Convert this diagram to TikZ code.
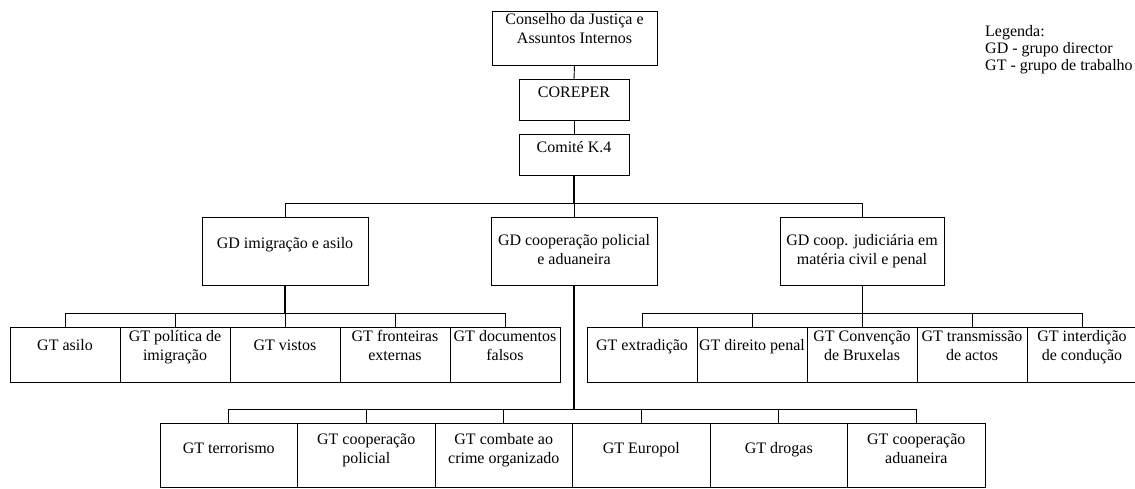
\documentclass[tikz,border=0pt]{standalone}
\usepackage{fontspec}
\setmainfont{Liberation Serif}
\begin{document}
\begin{tikzpicture}[x=1pt,y=-1pt,
  box/.style={draw=black,line width=0.9pt,rectangle,inner sep=0pt,outer sep=0pt},
  lbl/.style={anchor=base,inner sep=0pt,align=center,font=\fontsize{16}{18.4}\selectfont},
  leg/.style={anchor=base west,inner sep=0pt,font=\fontsize{16}{18.4}\selectfont},
  conn/.style={draw=black,line width=0.9pt},
  thickconn/.style={draw=black,line width=1.8pt}]
\useasboundingbox (0,0) rectangle (1135,488);
% top chain
\node[box,minimum width=165,minimum height=54] (conselho) at (574.5,38) {};
\node[lbl] (tconselho) at (574.5,43) {Conselho da Justiça e\\Assuntos Internos};
\node[box,minimum width=110,minimum height=41] (coreper) at (574,99.5) {};
\node[lbl] (tcoreper) at (574,97) {COREPER};
\node[box,minimum width=110,minimum height=41] (comite) at (574,154.5) {};
\node[lbl] (tcomite) at (574,152) {Comité K.4};
% GD row
\node[box,minimum width=166,minimum height=68] (gdimig) at (285,251) {};
\node[lbl] (tgdimig) at (285,248) {GD imigração e asilo};
\node[box,minimum width=166,minimum height=68] (gdcoop) at (574,251) {};
\node[lbl] (tgdcoop) at (574,264) {GD cooperação policial\\e aduaneira};
\node[box,minimum width=164,minimum height=68] (gdjud) at (862,251) {};
\node[lbl] (tgdjud) at (862,264) {GD coop. judiciária em\\matéria civil e penal};
% left GT row
\foreach \n/\cx in {a1/65,a2/175,a3/285,a4/395,a5/505}
  \node[box,minimum width=110,minimum height=55] (\n) at (\cx,354.5) {};
\node[lbl] (ta1) at (65,350) {GT asilo};
\node[lbl] (ta2) at (175,360) {GT política de\\imigração};
\node[lbl] (ta3) at (285,350) {GT vistos};
\node[lbl] (ta4) at (395,360) {GT fronteiras\\externas};
\node[lbl] (ta5) at (505,360) {GT documentos\\falsos};
% right GT row
\foreach \n/\cx in {b1/642,b2/752,b3/862,b4/972,b5/1082}
  \node[box,minimum width=110,minimum height=55] (\n) at (\cx,354.5) {};
\node[lbl] (tb1) at (642,350) {GT extradição};
\node[lbl] (tb2) at (752,350) {GT direito penal};
\node[lbl] (tb3) at (862,360) {GT Convenção\\de Bruxelas};
\node[lbl] (tb4) at (972,360) {GT transmissão\\de actos};
\node[lbl] (tb5) at (1082,360) {GT interdição\\de condução};
% bottom GT row
\foreach \n/\cx in {c1/228.75,c2/366.25,c3/503.75,c4/641.25,c5/778.75,c6/916.25}
  \node[box,minimum width=137.5,minimum height=64] (\n) at (\cx,455) {};
\node[lbl] (tc1) at (228.75,453) {GT terrorismo};
\node[lbl] (tc2) at (366.25,463) {GT cooperação\\policial};
\node[lbl] (tc3) at (503.75,463) {GT combate ao\\crime organizado};
\node[lbl] (tc4) at (641.25,453) {GT Europol};
\node[lbl] (tc5) at (778.75,453) {GT drogas};
\node[lbl] (tc6) at (916.25,463) {GT cooperação\\aduaneira};
% legend
\node[leg] (leg1) at (985,36) {Legenda:};
\node[leg] (leg2) at (985,53) {GD - grupo director};
\node[leg] (leg3) at (985,70) {GT - grupo de trabalho};
% bus points
\coordinate (bus1) at (574,203);
\coordinate (bus2) at (285,313);
\coordinate (bus3) at (862,313);
\coordinate (bus4) at (574,409);
% connectors
\draw[conn] (conselho.south) -- (coreper.north);
\draw[conn] (coreper.south) -- (comite.north);
\draw[thickconn] (comite.south) -- (bus1);
\draw[conn] (gdimig.north) |- (bus1);
\draw[conn] (gdjud.north) |- (bus1);
\draw[conn] (gdcoop.north) -- (bus1);
\draw[thickconn] (gdimig.south) -- (bus2);
\foreach \n in {a1,a2,a4,a5} \draw[conn] (\n.north) |- (bus2);
\draw[conn] (a3.north) -- (bus2);
\draw[conn] (gdjud.south) -- (bus3);
\foreach \n in {b1,b2,b4,b5} \draw[conn] (\n.north) |- (bus3);
\draw[conn] (b3.north) -- (bus3);
\draw[thickconn] (gdcoop.south) -- (bus4);
\foreach \n in {c1,c2,c3,c4,c5,c6} \draw[conn] (\n.north) |- (bus4);
\end{tikzpicture}
\end{document}
